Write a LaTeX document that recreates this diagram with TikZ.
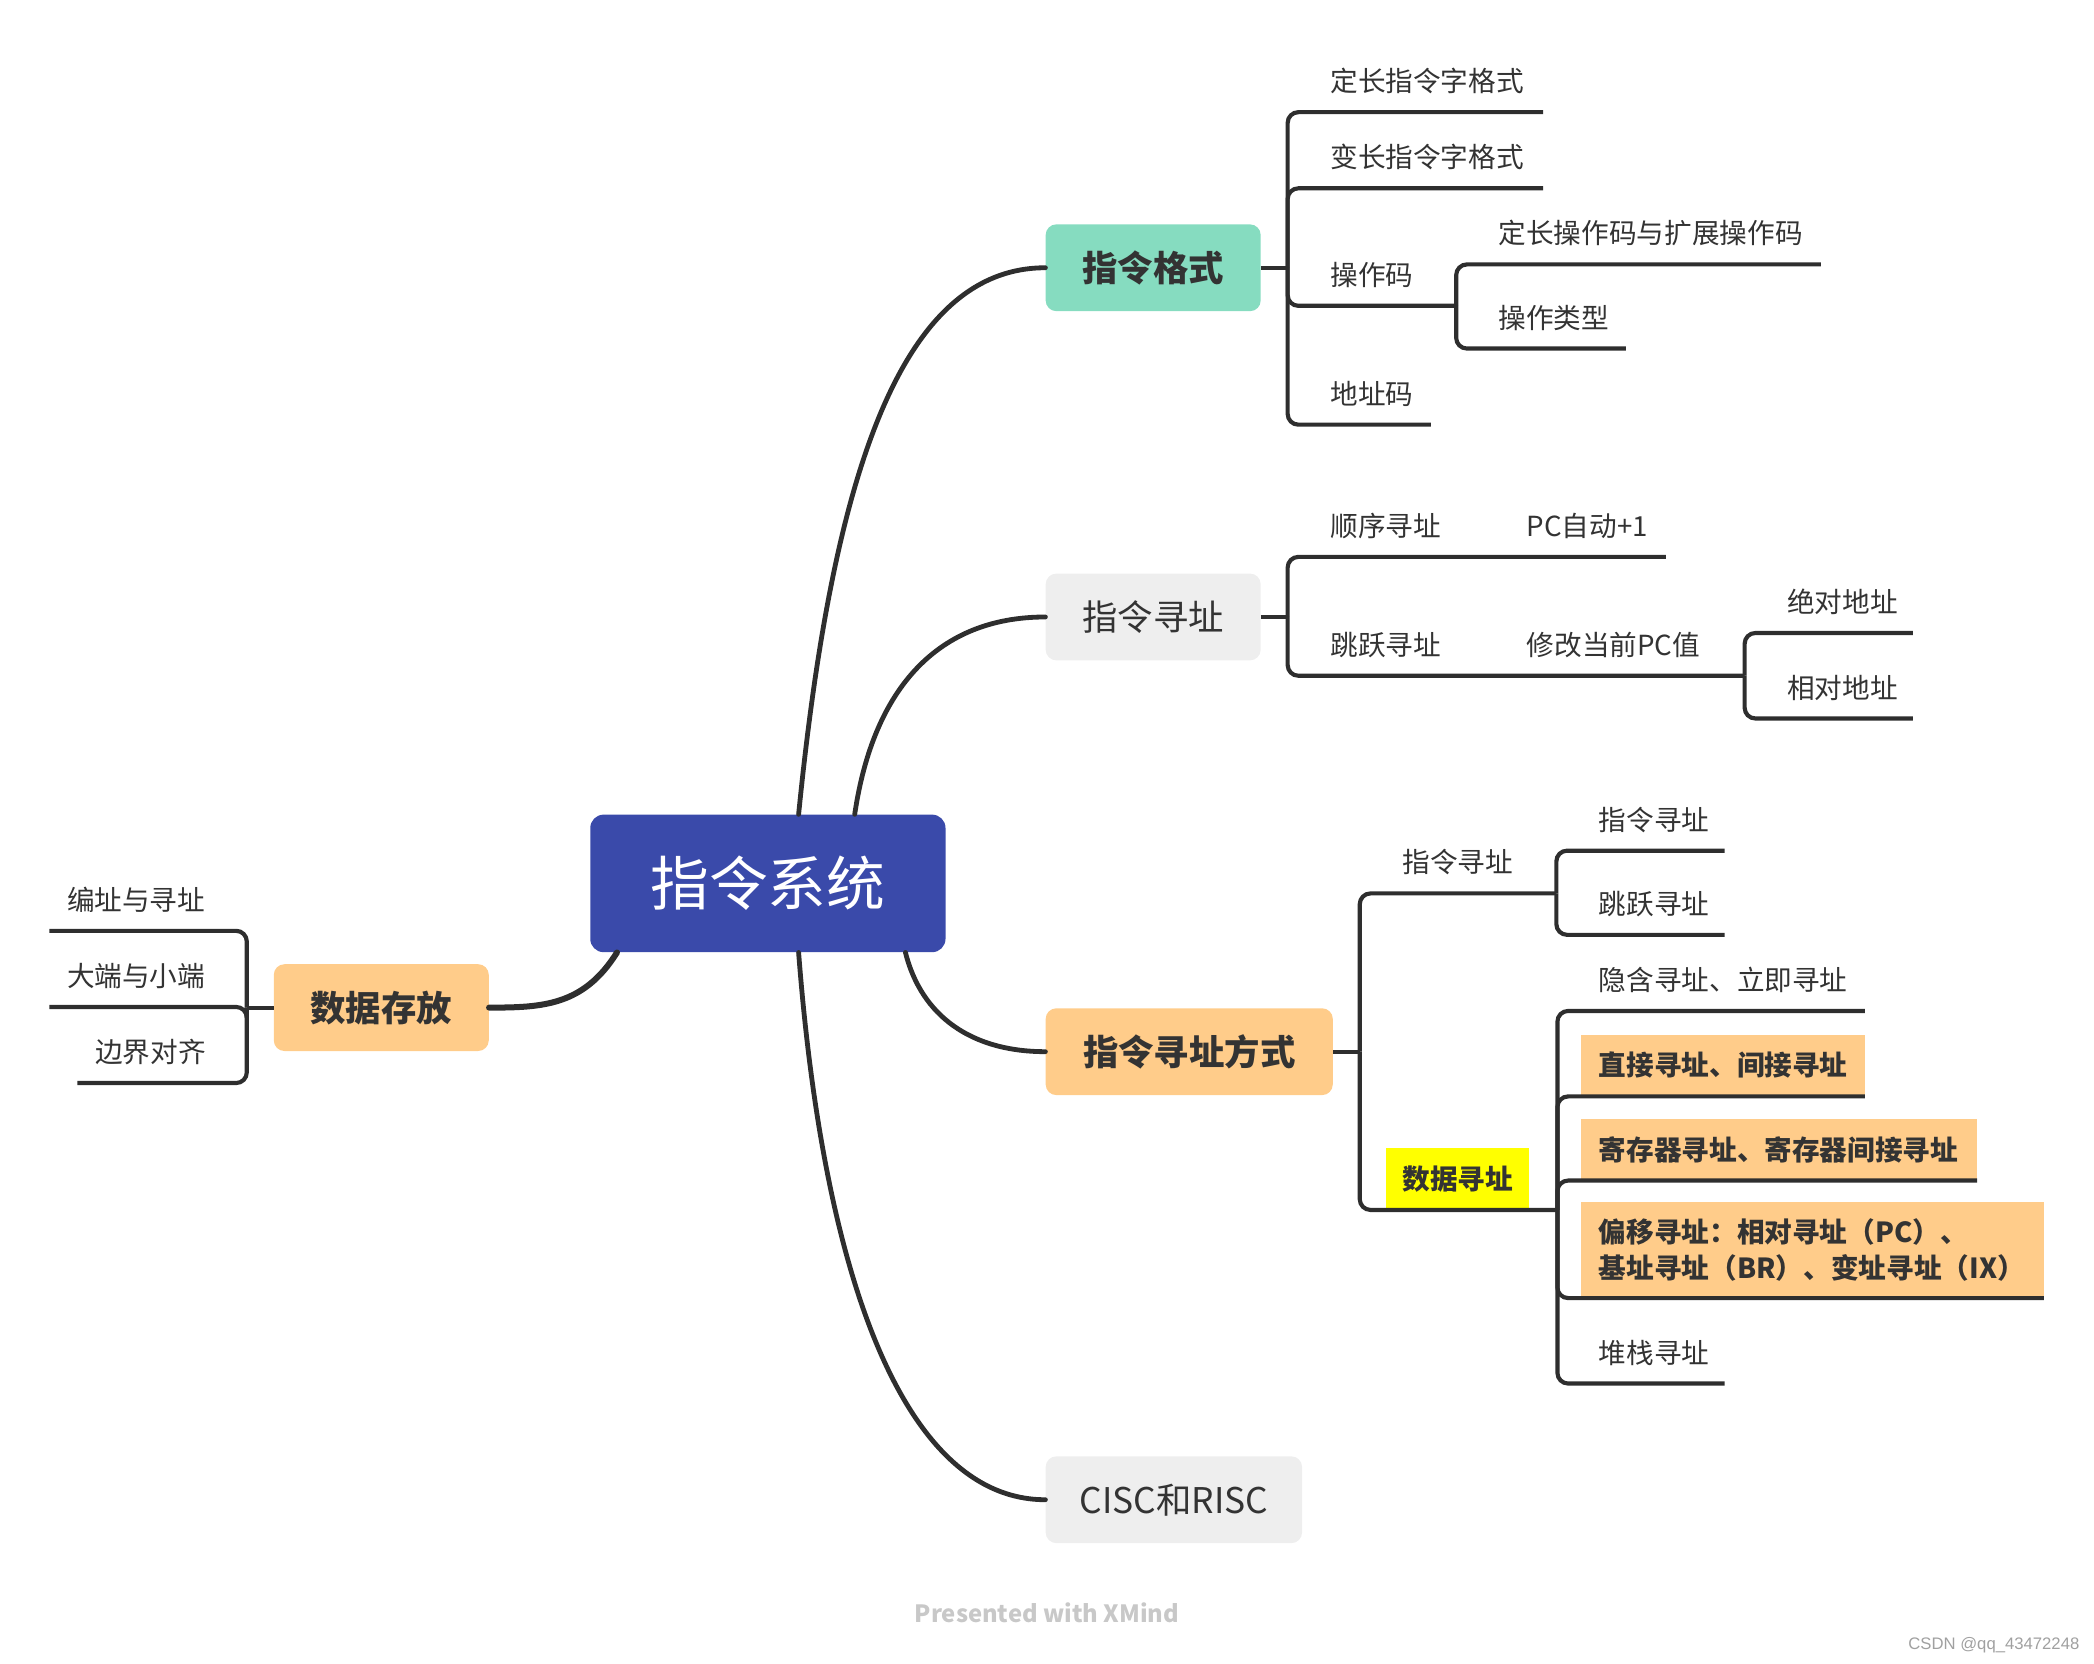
\documentclass[tikz,border=0pt]{standalone}
\usepackage{fontspec}
\setmainfont{Noto Sans CJK SC}
\newfontfamily\latinsans{Liberation Sans}
\usetikzlibrary{calc}
\definecolor{rootblue}{RGB}{58,74,170}
\definecolor{mint}{RGB}{134,220,192}
\definecolor{softgray}{RGB}{238,238,238}
\definecolor{peach}{RGB}{255,204,138}
\definecolor{hiyellow}{RGB}{255,255,0}
\definecolor{inkc}{RGB}{51,51,51}
\definecolor{linec}{RGB}{46,46,46}
\definecolor{footc}{RGB}{200,200,200}
\definecolor{csdnc}{RGB}{160,160,160}
\begin{document}
\begin{tikzpicture}[x=1pt,y=-1pt,
  trunk/.style={draw=linec, line width=3.6pt, line cap=round},
  br/.style={draw=linec, line width=3.1pt},
  rc/.style={rounded corners=8pt},
  topic/.style={rounded corners=8pt, minimum height=65pt, inner sep=0pt, text=inkc,
     font=\fontsize{26.5}{32}\selectfont},
  leaf/.style={anchor=south west, inner xsep=13pt, inner ysep=0pt, minimum height=46pt,
     align=left, text=inkc, font=\fontsize{20.7}{27}\selectfont},
  lleaf/.style={anchor=south west, inner xsep=13pt, inner ysep=0pt, minimum height=46pt,
     text=inkc, font=\fontsize{20.7}{27}\selectfont},
  hl/.style={fill=peach, font=\bfseries\fontsize{20.7}{27}\selectfont}
]
\useasboundingbox (0,0) rectangle (1568,1246);

% central and main topics
\node[fill=rootblue, rounded corners=10pt, minimum width=266pt, minimum height=103pt,
      text=white, font=\fontsize{44}{50}\selectfont] (root) at (575,661.5) {指令系统};
\node[topic, fill=mint, minimum width=161pt, font=\bfseries\fontsize{26.5}{32}\selectfont] (fmt) at (863.5,200.5) {指令格式};
\node[topic, fill=softgray, minimum width=161pt] (addr) at (863.5,462) {指令寻址};
\node[topic, fill=peach, minimum width=215pt, font=\bfseries\fontsize{26.5}{32}\selectfont] (mode) at (890.5,787.5) {指令寻址方式};
\node[topic, fill=softgray, minimum width=192pt] (cisc) at (879,1123) {CISC和RISC};
\node[topic, fill=peach, minimum width=161pt, font=\bfseries\fontsize{26.5}{32}\selectfont] (store) at (285.5,754.5) {数据存放};

% trunk curves
\draw[trunk] ($(root.north)+(23,0)$) .. controls +(24,-240) and +(-113,0) .. (fmt.west);
\draw[trunk] ($(root.north)+(65,0)$) .. controls +(14,-95) and +(-80,0) .. (addr.west);
\draw[trunk] ($(root.south)+(103,0)$) .. controls +(12,48) and +(-55,0) .. (mode.west);
\draw[trunk] ($(root.south)+(23,0)$) .. controls +(20,260) and +(-100,0) .. (cisc.west);
\draw[trunk, line width=4.5pt] ($(root.south)+(-113,0)$) .. controls +(-25,40) and +(40,0) .. (store.east);

% 指令格式 subtree
\node[leaf, text width=146pt] (f1) at (983,84) {定长指令字格式};
\node[leaf, text width=146pt] (f2) at (983,141) {变长指令字格式};
\node[leaf, text width=81pt] (f3) at (983,229) {操作码};
\node[leaf, text width=228pt] (f31) at (1109,198) {定长操作码与扩展操作码};
\node[leaf, text width=82pt] (f32) at (1109,261) {操作类型};
\node[leaf, text width=62pt] (f4) at (983,318) {地址码};
\draw[br] (fmt.east) -- ++(20,0);
\foreach \c in {f1,f2,f3,f4} \draw[br,rc] (fmt.east) ++(20,0) |- (\c.south east);
\foreach \c in {f31,f32} \draw[br,rc] (f3.south east) |- (\c.south east);

% 指令寻址 subtree
\node[leaf, text width=121pt] (a1) at (983,417) {顺序寻址};
\node[leaf, text width=91pt] (a2) at (1130,417) {PC自动+1};
\node[leaf, text width=121pt] (b1) at (983,506) {跳跃寻址};
\node[leaf, text width=150pt] (b2) at (1130,506) {修改当前PC值};
\node[leaf, text width=81pt] (b21) at (1325,474) {绝对地址};
\node[leaf, text width=81pt] (b22) at (1325,538) {相对地址};
\draw[br] (addr.east) -- ++(20,0);
\draw[br,rc] (addr.east) ++(20,0) |- (a1.south east) -- (a2.south east);
\draw[br,rc] (addr.east) ++(20,0) |- (b1.south east) -- (b2.south east);
\foreach \c in {b21,b22} \draw[br,rc] (b2.south east) |- (\c.south east);

% 指令寻址方式 subtree
\node[leaf, text width=102pt] (m1) at (1037,669) {指令寻址};
\node[leaf, text width=81pt] (m11) at (1184,637) {指令寻址};
\node[leaf, text width=81pt] (m12) at (1184,700) {跳跃寻址};
\node[anchor=south west, fill=hiyellow, inner xsep=12pt, inner ysep=0pt, minimum height=46pt,
      text=inkc, font=\bfseries\fontsize{20.7}{27}\selectfont] (m2) at (1038,906) {数据寻址};
\node[leaf, text width=186pt] (m21) at (1184,757) {隐含寻址、立即寻址};
\node[leaf, hl, text width=186pt] (m22) at (1184,821) {直接寻址、间接寻址};
\node[leaf, hl, text width=270pt] (m23) at (1184,884) {寄存器寻址、寄存器间接寻址};
\node[leaf, hl, text width=320pt, minimum height=72pt] (m24) at (1184,972) {偏移寻址：相对寻址（PC）、\\基址寻址（BR）、变址寻址（IX）};
\node[leaf, text width=81pt] (m25) at (1184,1036) {堆栈寻址};
\draw[br] (mode.east) -- ++(20,0);
\draw[br,rc] (mode.east) ++(20,0) |- (m1.south east);
\draw[br,rc] (mode.east) ++(20,0) |- (m2.south east) -- ++(21,0);
\foreach \c in {m11,m12} \draw[br,rc] (m1.south east) |- (\c.south east);
\foreach \c in {m21,m22,m23,m24,m25} \draw[br,rc] (m2.south east) ++(21,0) |- (\c.south east);

% 数据存放 subtree
\node[lleaf] (s1) at (37,697) {编址与寻址};
\node[lleaf] (s2) at (37,754) {大端与小端};
\node[lleaf] (s3) at (58,811) {边界对齐};
\draw[br] (store.west) -- ++(-20,0);
\foreach \c in {s1,s2,s3} \draw[br,rc] (store.west) ++(-20,0) |- (\c.south west);

% footer
\node[text=footc, font=\bfseries\fontsize{17.8}{20}\selectfont] (xm) at (784,1208) {Presented with XMind};
\node[text=csdnc, font=\latinsans\fontsize{12.5}{14}\selectfont] (csdn) at (1493,1232) {CSDN @qq\_43472248};
\end{tikzpicture}
\end{document}
